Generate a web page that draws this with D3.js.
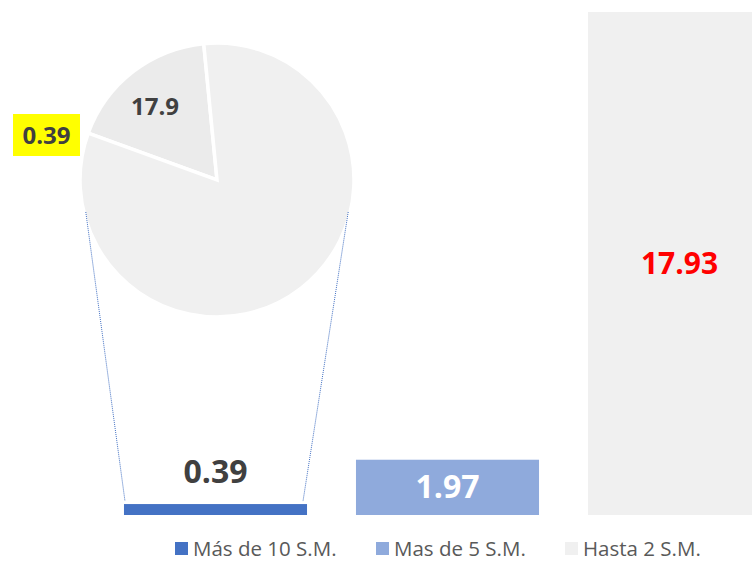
<!DOCTYPE html>
<html>
<head>
<meta charset="utf-8">
<script src="https://cdn.jsdelivr.net/npm/d3@7"></script>
<style>
  body { margin: 0; background: #fff; }
  text { font-family: "Open Sans", "Liberation Sans", sans-serif; }
</style>
</head>
<body>
<div id="chart"></div>
<script>
var width = 752, height = 562;

// bar data
var categories = ["Más de 10 S.M.", "Mas de 5 S.M.", "Hasta 2 S.M."];
var values = [0.39, 1.97, 17.93];
var barLabels = ["0.39", "1.97", "17.93"];
var colors = ["#4472c4", "#8faadc", "#f0f0f0"];
var labelColors = ["#404040", "#ffffff", "#ff0000"];

// pie data (slice share as drawn)
var pieValues = [17.9, 82.1];
var pieLabels = ["17.9", ""];
var pieColors = ["#ebebeb", "#f0f0f0"];
var pieNote = "0.39";

var svg = d3.select("#chart")
    .append("svg")
    .attr("width", width)
    .attr("height", height);

// scales
var x = d3.scaleBand()
    .domain(categories)
    .range([99.5, 795.5])
    .paddingInner(0.211)
    .paddingOuter(0.1055);

var y = d3.scaleLinear()
    .domain([0, 18])
    .range([515, 10]);

// bars
svg.selectAll("rect.bar")
    .data(values)
    .enter()
    .append("rect")
    .attr("class", "bar")
    .attr("x", function(d, i) { return x(categories[i]); })
    .attr("y", function(d) { return y(d); })
    .attr("width", x.bandwidth())
    .attr("height", function(d) { return y(0) - y(d); })
    .style("fill", function(d, i) { return colors[i]; });

// bar labels: first above, others inside
svg.selectAll("text.barlab")
    .data(values)
    .enter()
    .append("text")
    .attr("class", "barlab")
    .attr("x", function(d, i) { return x(categories[i]) + x.bandwidth() / 2; })
    .attr("y", function(d, i) {
        if (i == 0) return y(d) - 21;
        return (y(d) + y(0)) / 2 + 11;
    })
    .attr("text-anchor", "middle")
    .style("font-weight", "bold")
    .style("font-size", function(d, i) { return i == 2 ? "30px" : "32px"; })
    .style("fill", function(d, i) { return labelColors[i]; })
    .text(function(d, i) { return barLabels[i]; });

// pie
var cx = 217, cy = 180, r = 137;
var startA = -70 * Math.PI / 180;
var pie = d3.pie()
    .sort(null)
    .startAngle(startA)
    .endAngle(startA + 2 * Math.PI);
var arc = d3.arc().innerRadius(0).outerRadius(r);

var pieG = svg.append("g")
    .attr("transform", "translate(" + cx + "," + cy + ")");

pieG.selectAll("path")
    .data(pie(pieValues))
    .enter()
    .append("path")
    .attr("d", arc)
    .style("fill", function(d, i) { return pieColors[i]; })
    .style("stroke", "#fff")
    .style("stroke-width", 3.5)
    .style("stroke-linejoin", "miter");

pieG.selectAll("text")
    .data(pie(pieValues))
    .enter()
    .append("text")
    .attr("x", -62)
    .attr("y", -65)
    .attr("text-anchor", "middle")
    .style("font-weight", "bold")
    .style("font-size", "24px")
    .style("fill", "#404040")
    .text(function(d, i) { return pieLabels[i]; });

// yellow note
svg.append("rect")
    .attr("x", 13)
    .attr("y", 114)
    .attr("width", 67)
    .attr("height", 42)
    .style("fill", "#ffff00");
svg.append("text")
    .attr("x", 46.5)
    .attr("y", 144)
    .attr("text-anchor", "middle")
    .style("font-weight", "bold")
    .style("font-size", "24px")
    .style("fill", "#404040")
    .text(pieNote);

// connector lines pie -> first bar
var dy = 32;
var dx = Math.sqrt(r * r - dy * dy) - 2;
var b0 = x(categories[0]), b1 = b0 + x.bandwidth();
var connectors = [
    [[cx - dx, cy + dy], [b0 + 1, y(values[0]) - 3]],
    [[cx + dx, cy + dy], [b1 - 4, y(values[0]) - 3]]
];
svg.selectAll("line.conn")
    .data(connectors)
    .enter()
    .append("line")
    .attr("class", "conn")
    .attr("x1", function(d) { return d[0][0]; })
    .attr("y1", function(d) { return d[0][1]; })
    .attr("x2", function(d) { return d[1][0]; })
    .attr("y2", function(d) { return d[1][1]; })
    .style("stroke", "#4472c4")
    .style("stroke-width", 1)
    .style("stroke-dasharray", "1,1");

// legend
var legX = [175, 376, 565];
var leg = svg.selectAll("g.leg")
    .data(categories)
    .enter()
    .append("g")
    .attr("class", "leg")
    .attr("transform", function(d, i) { return "translate(" + legX[i] + ",542)"; });
leg.append("rect")
    .attr("width", 13)
    .attr("height", 13)
    .style("fill", function(d, i) { return colors[i]; });
leg.append("text")
    .attr("x", 18)
    .attr("y", 14)
    .style("font-size", "20.5px")
    .style("fill", "#595959")
    .text(function(d) { return d; });
</script>
</body>
</html>
